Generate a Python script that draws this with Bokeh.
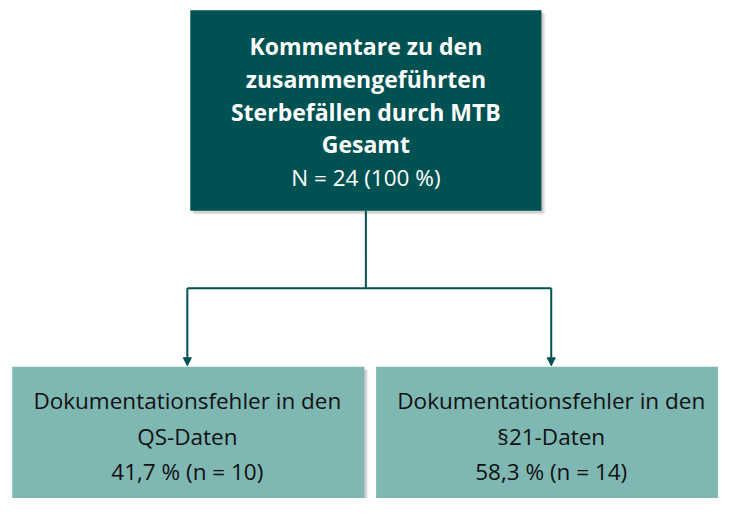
from bokeh.plotting import figure
from bokeh.models import Range1d, Arrow, NormalHead
from bokeh.core.properties import value
from bokeh.embed import file_html
from bokeh.resources import INLINE

# ---- data ----
top_title = ["Kommentare zu den", "zusammengeführten", "Sterbefällen durch MTB", "Gesamt"]
total_n = 24
total_pct = "100 %"
child_titles = [["Dokumentationsfehler in den", "QS-Daten"],
                ["Dokumentationsfehler in den", "§21-Daten"]]
child_pct = ["41,7 %", "58,3 %"]
child_n = [10, 14]

DARK = "#005152"
LIGHT = "#7fb7b3"
FONT = "Open Sans"

W, H = 718, 498
# layout units follow the 734x514 reference, scaled into the figure
p = figure(width=W, height=H, output_backend="svg", toolbar_location=None,
           x_range=Range1d(0, 734), y_range=Range1d(514, 0),
           min_border=0, outline_line_color=None, background_fill_color="white")
p.axis.visible = False
p.grid.visible = False

top_box = (194, 10, 553, 217)
child_boxes = [(12, 378, 372, 540), (384, 378, 744, 540)]

def box(b, color):
    l, t, r, bt = b
    for off, a in [(4, 0.10), (3, 0.15), (2, 0.2)]:
        p.quad(left=l + off, right=r + off, top=t + off, bottom=bt + off,
               fill_color="#808080", fill_alpha=a, line_color=None)
    p.quad(left=l, right=r, top=t, bottom=bt, fill_color=color, line_color=None)

box(top_box, DARK)
for b in child_boxes:
    box(b, LIGHT)

cx_top = (top_box[0] + top_box[2]) / 2
cxs = [(b[0] + b[2]) / 2 - 1 for b in child_boxes]
ybar = 297
p.line([cx_top, cx_top], [top_box[3], ybar], line_color=DARK, line_width=2)
p.line([cxs[0], cxs[1]], [ybar, ybar], line_color=DARK, line_width=2)
for cx, b in zip(cxs, child_boxes):
    p.add_layout(Arrow(end=NormalHead(size=8, fill_color=DARK, line_color=DARK),
                       x_start=cx, y_start=ybar, x_end=cx, y_end=b[1] - 1,
                       line_color=DARK, line_width=2))

lh = 33.8
y0 = 47
for i, t in enumerate(top_title):
    p.text(x=[cx_top], y=[y0 + i * lh], text=[t], text_align="center",
           text_baseline="middle", text_color="white", text_font=value(FONT),
           text_font_style="bold", text_font_size="23px")
p.text(x=[cx_top], y=[y0 + 4 * lh], text=[f"N = {total_n} ({total_pct})"],
       text_align="center", text_baseline="middle", text_color="white",
       text_font=value(FONT), text_font_size="22.5px")

for b, titles, pct, n in zip(child_boxes, child_titles, child_pct, child_n):
    cx = (b[0] + b[2]) / 2 - 1
    lines = titles + [f"{pct} (n = {n})"]
    for i, t in enumerate(lines):
        p.text(x=[cx], y=[413 + i * 36.5], text=[t], text_align="center",
               text_baseline="middle", text_color="#111111", text_font=value(FONT),
               text_font_size="22.5px")

open("out.html", "w").write(file_html(p, INLINE))
